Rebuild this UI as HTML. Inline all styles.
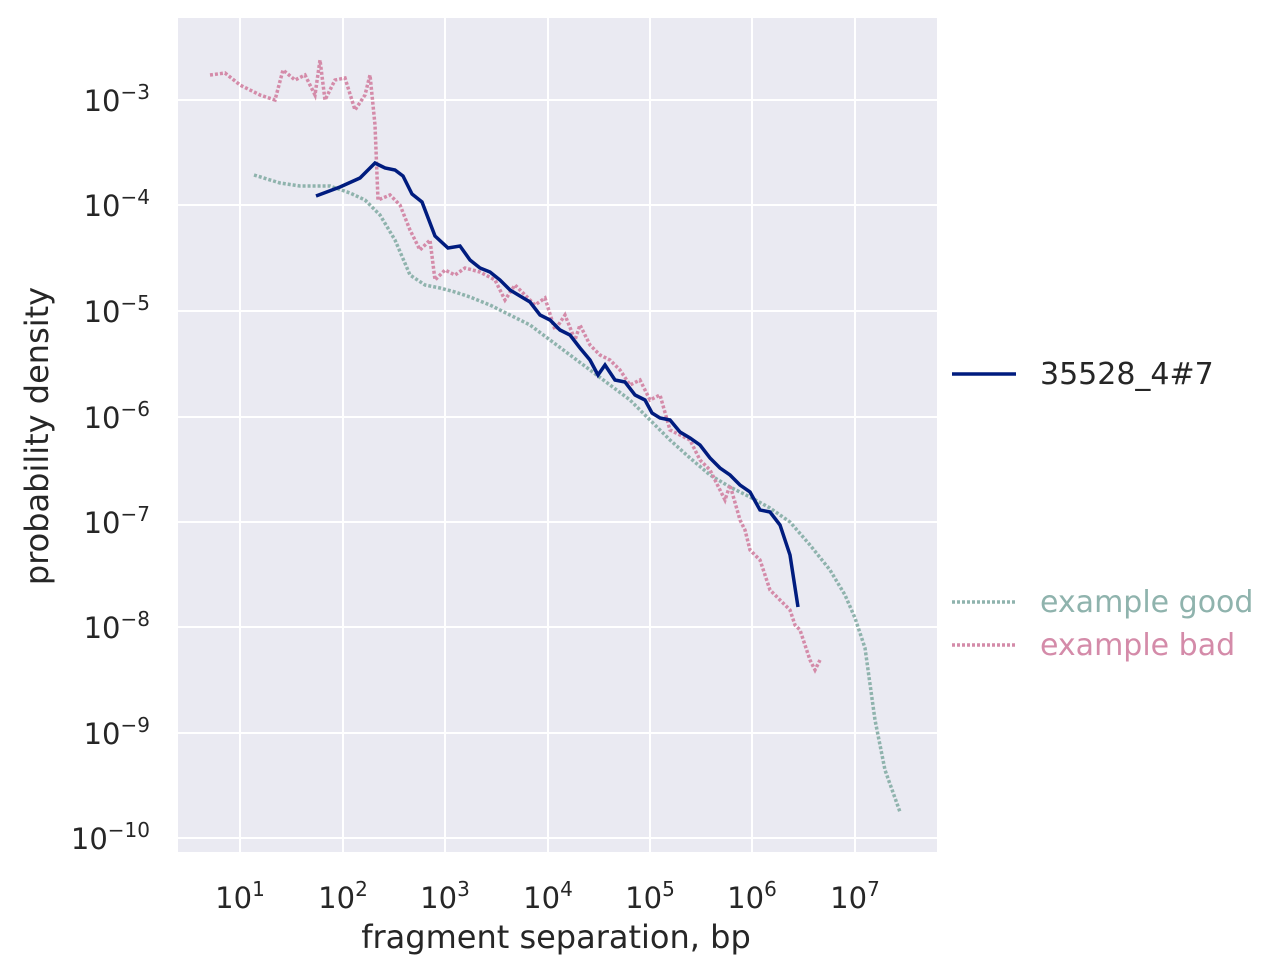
<!DOCTYPE html>
<html><head><meta charset="utf-8"><style>
body{margin:0;background:#fff;}
svg{display:block;font-family:"DejaVu Sans","Liberation Sans",sans-serif;}
</style></head><body>
<svg width="1283" height="976" viewBox="0 0 1283 976" xmlns="http://www.w3.org/2000/svg">
<rect x="178" y="18" width="759" height="834" fill="#eaeaf2"/>
<g stroke="#fff" stroke-width="2">
<line x1="240" y1="18" x2="240" y2="852"/><line x1="343" y1="18" x2="343" y2="852"/>
<line x1="445" y1="18" x2="445" y2="852"/><line x1="548" y1="18" x2="548" y2="852"/>
<line x1="650" y1="18" x2="650" y2="852"/><line x1="752" y1="18" x2="752" y2="852"/>
<line x1="855" y1="18" x2="855" y2="852"/>
<line x1="178" y1="100" x2="937" y2="100"/><line x1="178" y1="205" x2="937" y2="205"/>
<line x1="178" y1="311" x2="937" y2="311"/><line x1="178" y1="417" x2="937" y2="417"/>
<line x1="178" y1="522" x2="937" y2="522"/><line x1="178" y1="627" x2="937" y2="627"/>
<line x1="178" y1="733" x2="937" y2="733"/><line x1="178" y1="838" x2="937" y2="838"/>
</g>
<g fill="none" stroke-width="3.5">
<polyline stroke="#8fb3ad" stroke-dasharray="3,2" points="254,175 280,183 300,186 330,186 350,193 365,200 380,215 395,240 410,275 425,285 440,288 455,292 470,297 490,305 510,315 530,325 550,340 570,355 590,370 610,385 630,400 650,420 670,440 690,458 710,475 730,487 750,497 770,508 790,522 810,545 830,570 845,595 855,618 865,648 875,720 885,770 900,812"/>
<polyline stroke="#d48ba9" stroke-dasharray="3,2" points="210,75 225,73 240,85 260,95 275,100 283,70 295,80 305,75 315,95 320,60 325,100 335,80 345,78 355,110 365,95 370,75 375,125 378,200 390,195 400,205 410,230 420,250 430,240 435,280 445,270 455,275 465,268 480,272 495,280 505,300 515,285 525,295 535,305 545,298 555,330 565,315 575,340 580,325 590,345 600,355 610,360 620,370 630,385 640,380 650,400 660,395 670,430 680,435 690,440 700,460 710,470 720,490 725,500 730,485 740,520 745,530 750,550 760,560 770,590 780,600 790,610 795,625 800,630 810,660 815,670 820,660"/>
<polyline stroke="#001c7f" points="316,196 340,187 360,178 375,163 385,168 395,170 403,176 412,194 422,202 435,236 448,248 460,246 470,260 480,268 490,272 500,280 510,290 520,296 530,302 540,315 550,320 560,330 570,335 580,348 590,360 598,375 605,365 615,380 625,382 635,395 645,400 652,413 660,418 670,420 680,432 690,438 700,445 710,458 720,468 730,475 740,485 750,492 760,510 770,512 780,525 790,555 798,607"/>
</g>
<g font-size="29" fill="#262626" text-anchor="middle">
<text x="240" y="908">10<tspan font-size="20" dy="-12">1</tspan></text>
<text x="343" y="908">10<tspan font-size="20" dy="-12">2</tspan></text>
<text x="445" y="908">10<tspan font-size="20" dy="-12">3</tspan></text>
<text x="548" y="908">10<tspan font-size="20" dy="-12">4</tspan></text>
<text x="650" y="908">10<tspan font-size="20" dy="-12">5</tspan></text>
<text x="752" y="908">10<tspan font-size="20" dy="-12">6</tspan></text>
<text x="855" y="908">10<tspan font-size="20" dy="-12">7</tspan></text>
<text x="556" y="948" font-size="32">fragment separation, bp</text>
</g>
<g font-size="29" fill="#262626" text-anchor="end">
<text x="150" y="111">10<tspan font-size="20" dy="-12">−3</tspan></text>
<text x="150" y="216">10<tspan font-size="20" dy="-12">−4</tspan></text>
<text x="150" y="322">10<tspan font-size="20" dy="-12">−5</tspan></text>
<text x="150" y="428">10<tspan font-size="20" dy="-12">−6</tspan></text>
<text x="150" y="533">10<tspan font-size="20" dy="-12">−7</tspan></text>
<text x="150" y="638">10<tspan font-size="20" dy="-12">−8</tspan></text>
<text x="150" y="744">10<tspan font-size="20" dy="-12">−9</tspan></text>
<text x="150" y="849">10<tspan font-size="20" dy="-12">−10</tspan></text>
</g>
<text transform="translate(48,436) rotate(-90)" font-size="32" fill="#262626" text-anchor="middle">probability density</text>
<line x1="952" y1="374" x2="1016" y2="374" stroke="#001c7f" stroke-width="3.5"/>
<text x="1040" y="384" font-size="30" fill="#262626">35528_4#7</text>
<line x1="952" y1="602" x2="1016" y2="602" stroke="#8fb3ad" stroke-width="3.5" stroke-dasharray="3,2"/>
<text x="1040" y="612" font-size="30" fill="#8fb3ad">example good</text>
<line x1="952" y1="645" x2="1016" y2="645" stroke="#d48ba9" stroke-width="3.5" stroke-dasharray="3,2"/>
<text x="1040" y="655" font-size="30" fill="#d48ba9">example bad</text>
</svg>
</body></html>
